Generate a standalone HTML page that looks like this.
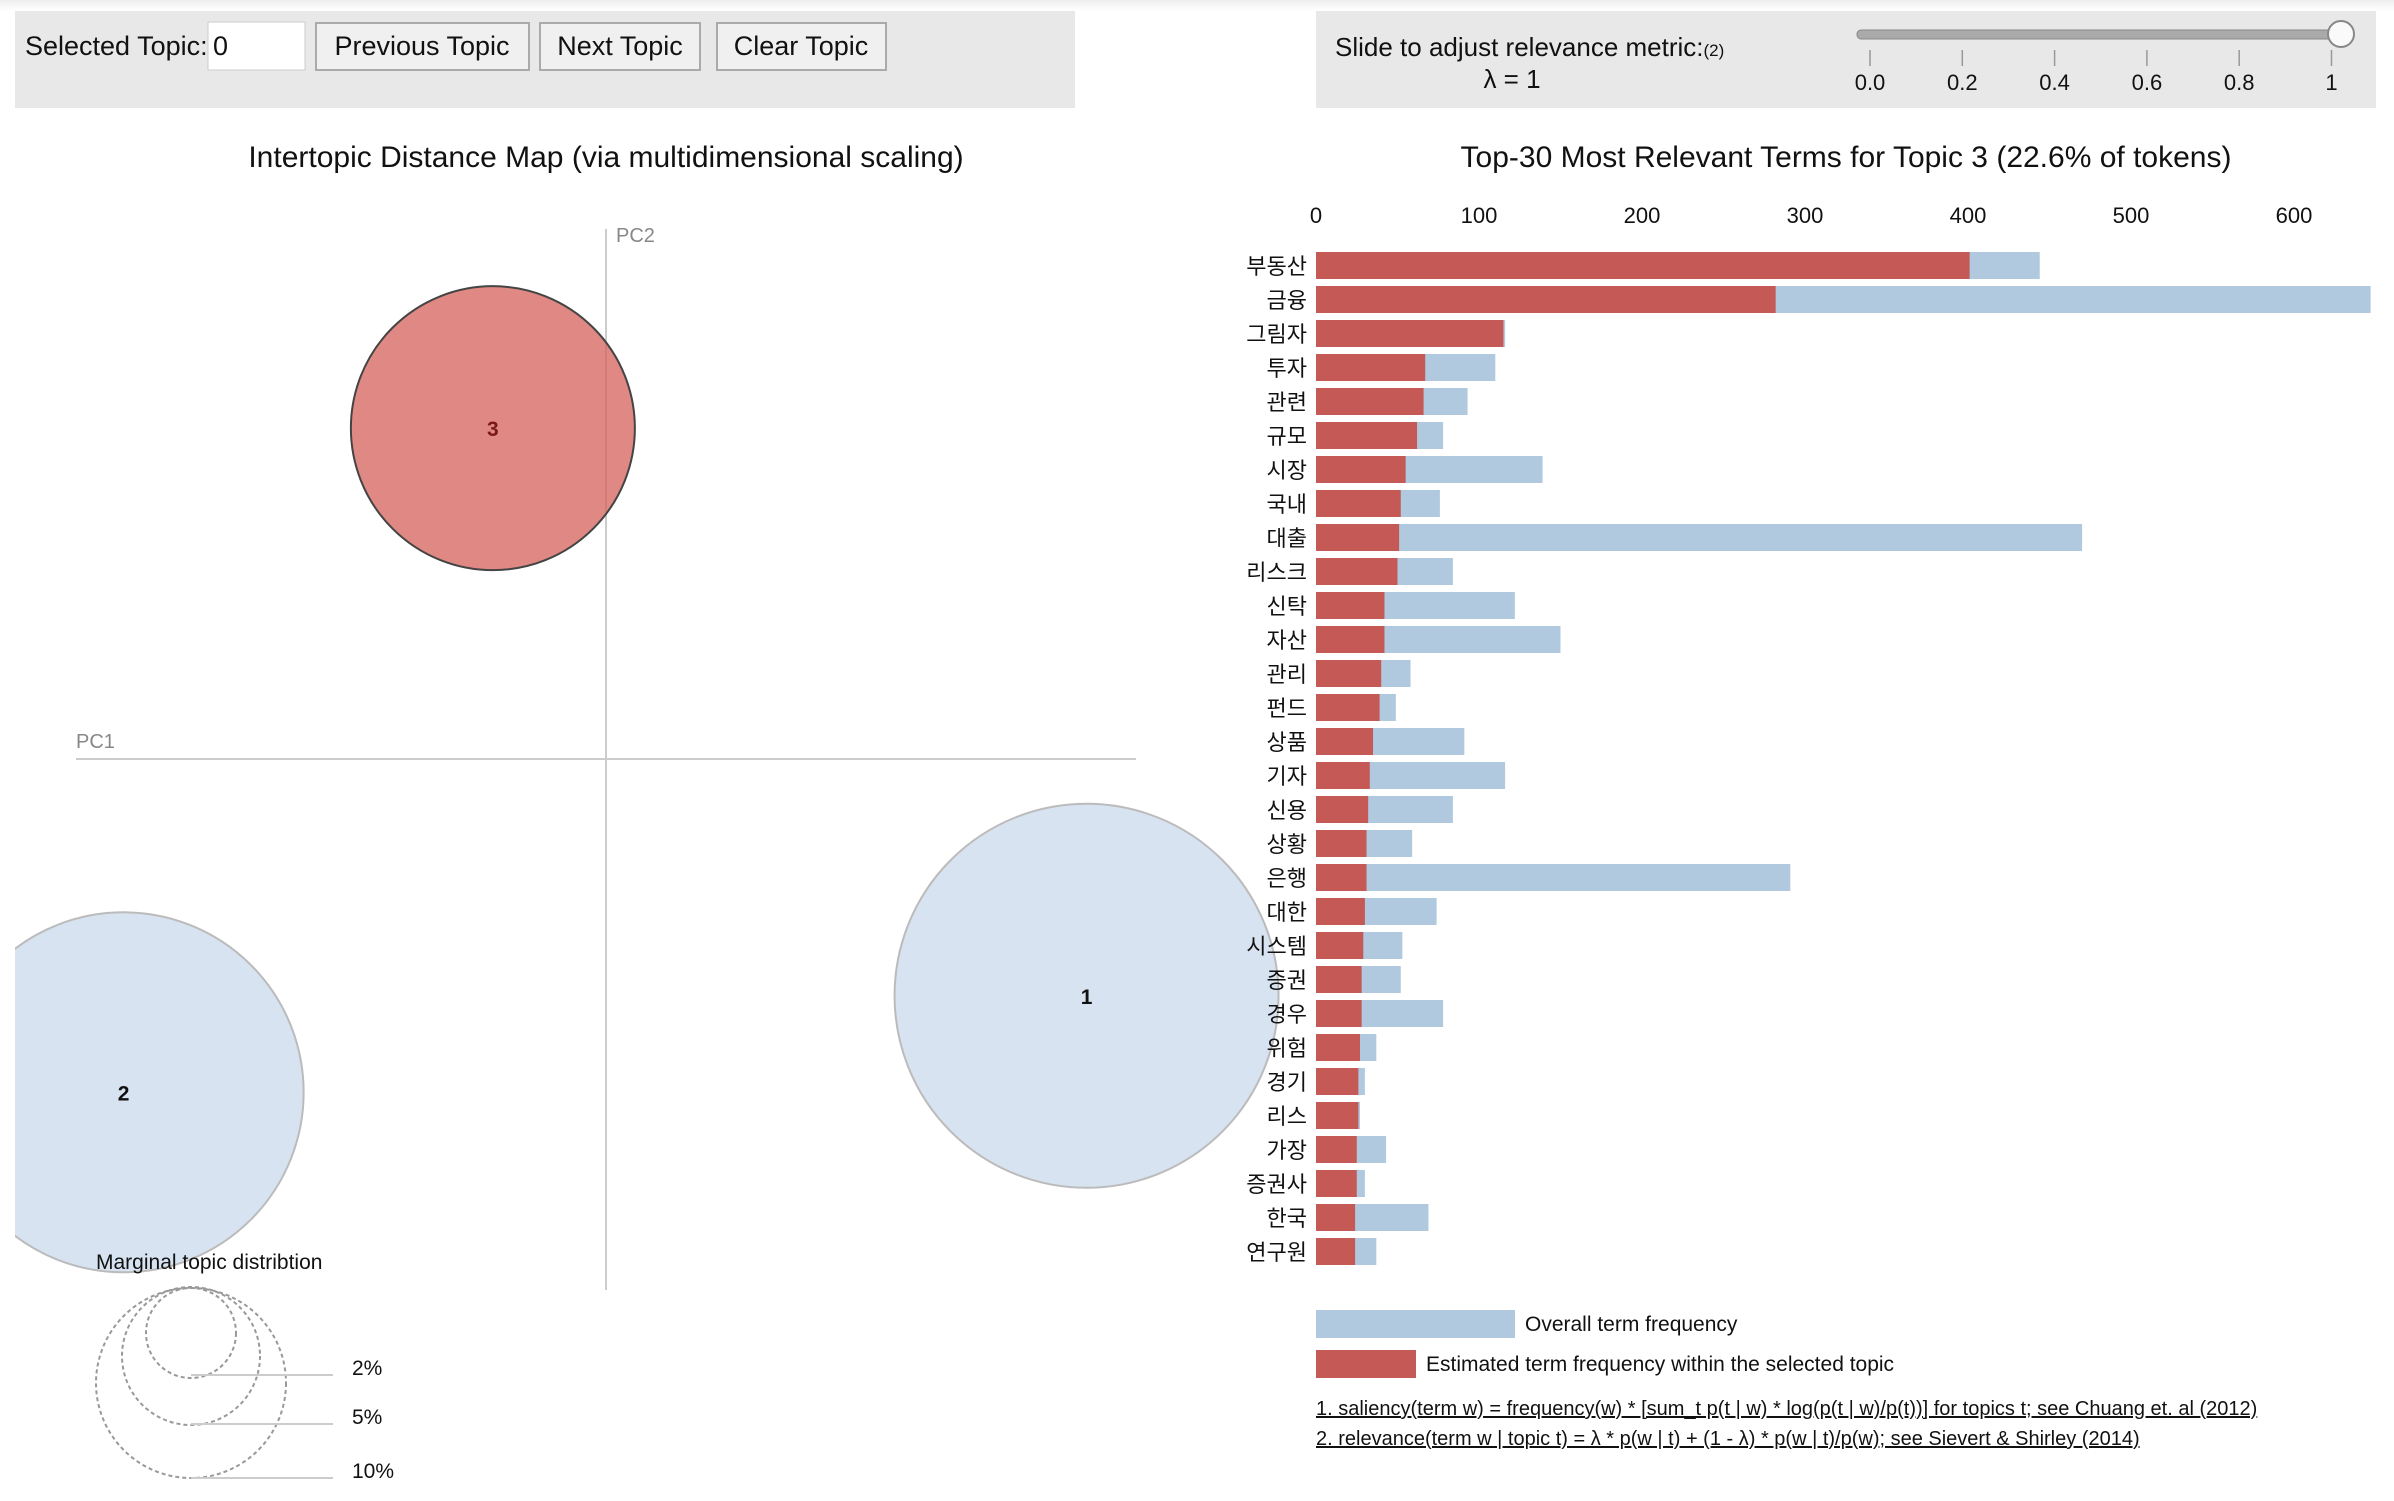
<!DOCTYPE html>
<html><head><meta charset="utf-8"><style>
body{margin:0;width:2394px;height:1496px;overflow:hidden;background:#fff;font-family:"Liberation Sans","Noto Sans CJK KR",sans-serif}
svg text{font-family:"Liberation Sans","Noto Sans CJK KR",sans-serif}
</style></head><body>
<svg id="s" width="2394" height="1496" xmlns="http://www.w3.org/2000/svg">
<defs><linearGradient id="tg" x1="0" y1="0" x2="0" y2="1"><stop offset="0" stop-color="#eee"/><stop offset="1" stop-color="#fff"/></linearGradient>
<clipPath id="lc"><rect x="15" y="200" width="1280" height="1296"/></clipPath></defs>
<rect x="0" y="0" width="2394" height="11" fill="url(#tg)"/>
<g>
<rect x="15" y="11" width="1060" height="97" fill="#e8e8e8"/>
<text x="25" y="55" font-size="27" fill="#111">Selected Topic:</text>
<rect x="208" y="22" width="97" height="48" fill="#fff" stroke="#ccc"/>
<text x="213" y="55" font-size="27" fill="#111">0</text>
<g><rect x="316" y="23" width="213" height="47" fill="#f0f0f0" stroke="#aaa" stroke-width="2"/><text x="422" y="55" font-size="27" text-anchor="middle" fill="#111">Previous Topic</text></g>
<g><rect x="540" y="23" width="160" height="47" fill="#f0f0f0" stroke="#aaa" stroke-width="2"/><text x="620" y="55" font-size="27" text-anchor="middle" fill="#111">Next Topic</text></g>
<g><rect x="717" y="23" width="169" height="47" fill="#f0f0f0" stroke="#aaa" stroke-width="2"/><text x="801" y="55" font-size="27" text-anchor="middle" fill="#111">Clear Topic</text></g>
</g>
<g>
<rect x="1316" y="11" width="1060" height="97" fill="#e8e8e8"/>
<text x="1335" y="56" font-size="26" fill="#111">Slide to adjust relevance metric:<tspan font-size="17">(2)</tspan></text>
<text x="1512" y="88" font-size="26" text-anchor="middle" fill="#111">λ = 1</text>
<rect x="1857" y="30" width="485" height="9" rx="4" fill="#aaa" stroke="#888"/>
<circle cx="2341" cy="34" r="13" fill="#fafafa" stroke="#888" stroke-width="2"/>
<g id="sl" font-size="22" fill="#111"></g>
</g>
<text x="606" y="167" font-size="30" text-anchor="middle" fill="#111">Intertopic Distance Map (via multidimensional scaling)</text>
<text x="1846" y="167" font-size="30" text-anchor="middle" fill="#111">Top-30 Most Relevant Terms for Topic 3 (22.6% of tokens)</text>
<g clip-path="url(#lc)">
<line x1="606" y1="229" x2="606" y2="1290" stroke="#ccc" stroke-width="2"/>
<line x1="76" y1="759" x2="1136" y2="759" stroke="#ccc" stroke-width="2"/>
<g id="circ"></g>
</g>
<text x="616" y="242" font-size="20" fill="#888">PC2</text>
<text x="76" y="748" font-size="20" fill="#888">PC1</text>
<g>
<text x="96" y="1269" font-size="21" fill="#111">Marginal topic distribtion</text>
<circle cx="191" cy="1383" r="95" fill="none" stroke="#999" stroke-dasharray="4,3" stroke-width="2"/>
<circle cx="191" cy="1356" r="69" fill="none" stroke="#999" stroke-dasharray="4,3" stroke-width="2"/>
<circle cx="191" cy="1333" r="45" fill="none" stroke="#999" stroke-dasharray="4,3" stroke-width="2"/>
<line x1="191" y1="1375" x2="333" y2="1375" stroke="#ccc" stroke-width="2"/>
<line x1="191" y1="1424" x2="333" y2="1424" stroke="#ccc" stroke-width="2"/>
<line x1="191" y1="1478" x2="333" y2="1478" stroke="#ccc" stroke-width="2"/>
<text x="352" y="1375" font-size="21" fill="#111">2%</text>
<text x="352" y="1424" font-size="21" fill="#111">5%</text>
<text x="352" y="1478" font-size="21" fill="#111">10%</text>
</g>
<g id="bars"></g>
<g>
<rect x="1316" y="1310" width="199" height="28" fill="#b0c9df"/>
<text x="1525" y="1331" font-size="21" fill="#111">Overall term frequency</text>
<rect x="1316" y="1350" width="100" height="28" fill="#c45955"/>
<text x="1426" y="1371" font-size="21" fill="#111">Estimated term frequency within the selected topic</text>
<text x="1316" y="1415" font-size="20" fill="#111" text-decoration="underline">1. saliency(term w) = frequency(w) * [sum_t p(t | w) * log(p(t | w)/p(t))] for topics t; see Chuang et. al (2012)</text>
<text x="1316" y="1445" font-size="20" fill="#111" text-decoration="underline">2. relevance(term w | topic t) = λ * p(w | t) + (1 - λ) * p(w | t)/p(w); see Sievert &amp; Shirley (2014)</text>
</g>
</svg>
<script>
const terms=["부동산","금융","그림자","투자","관련","규모","시장","국내","대출","리스크","신탁","자산","관리","펀드","상품","기자","신용","상황","은행","대한","시스템","증권","경우","위험","경기","리스","가장","증권사","한국","연구원"];
const topicFreq=[401,282,115,67,66,62,55,52,51,50,42,42,40,39,35,33,32,31,31,30,29,28,28,27,26,26,25,25,24,24];
const totalFreq=[444,647,116,110,93,78,139,76,470,84,122,150,58,49,91,116,84,59,291,74,53,52,78,37,30,27,43,30,69,37];
const xTicks=[0,100,200,300,400,500,600];
const sliderTicks=["0.0","0.2","0.4","0.6","0.8","1"];
const topicIds=["1","2","3"];
const topicX=[0.531,-0.533,-0.125];
const topicY=[-0.287,-0.404,0.401];
const topicR=[192,180,142];
const NS="http://www.w3.org/2000/svg";
function mk(t,a,p){const e=document.createElementNS(NS,t);for(const k in a)e.setAttribute(k,a[k]);p.appendChild(e);return e;}
const xs=v=>1316+v*1.63;
const ys=i=>252+i*34.0;
const bars=document.getElementById('bars');
xTicks.forEach(t=>{const e=mk('text',{x:xs(t),y:223,'font-size':22,'text-anchor':'middle',fill:'#111'},bars);e.textContent=t;

});
terms.forEach((t,i)=>{
const b=mk('rect',{x:xs(0),y:ys(i),width:xs(totalFreq[i])-xs(0),height:27,fill:'#b0c9df'},bars);


const r=mk('rect',{x:xs(0),y:ys(i),width:xs(topicFreq[i])-xs(0),height:27,fill:'#c45955'},bars);


const l=mk('text',{x:1307,y:ys(i)+22,'font-size':22,'text-anchor':'end',fill:'#111'},bars);l.textContent=t;


});
const sl=document.getElementById('sl');
sliderTicks.forEach((t,i)=>{const x=1870+i*92.3;
const ln=mk('line',{x1:x,y1:50,x2:x,y2:66,stroke:'#999','stroke-width':1.5},sl);


const e=mk('text',{x:x,y:90,'text-anchor':'middle'},sl);e.textContent=t;

});
const cx=v=>606+v*905, cy=v=>759-v*825;
const cg=document.getElementById('circ');
topicIds.forEach((id,i)=>{const sel=id==="3";
const c=mk('circle',{cx:cx(topicX[i]),cy:cy(topicY[i]),r:topicR[i],fill:sel?'#d5605a':'#c6d7ea','fill-opacity':sel?0.75:0.7,stroke:sel?'#444':'#bbb','stroke-width':2},cg);


const t=mk('text',{x:cx(topicX[i]),y:cy(topicY[i])+8,'font-size':21,'font-weight':'bold','text-anchor':'middle',fill:sel?'#7a1a17':'#111'},cg);t.textContent=id;

});
</script>
</body></html>
